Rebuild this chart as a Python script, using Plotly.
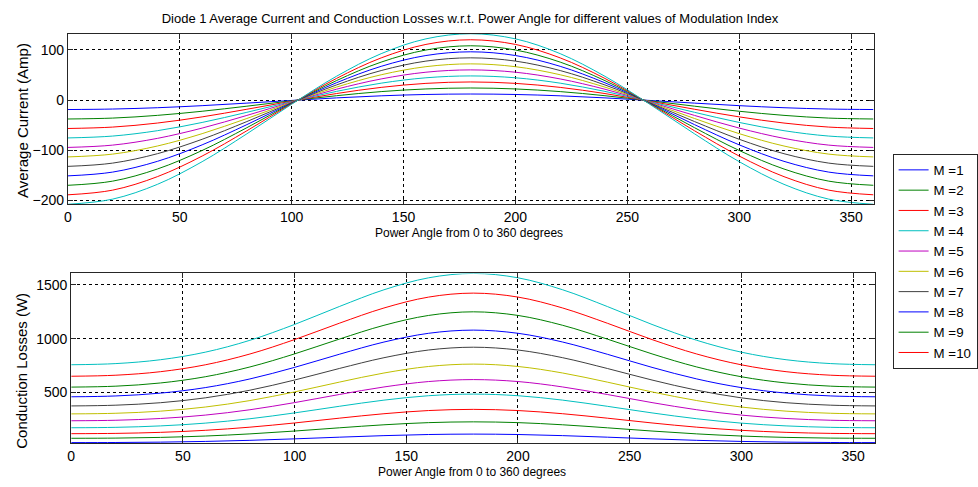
import plotly.graph_objects as go

angles = [0, 20, 40, 60, 80, 100, 120, 140, 160, 180, 200, 220, 240, 260, 280, 300, 320, 340, 360]
labels = ["M =1", "M =2", "M =3", "M =4", "M =5", "M =6", "M =7", "M =8", "M =9", "M =10", "M =11"]

current_m1 = [-18.9, -17.9, -15.3, -11.2, -6.1, -0.8, 4.3, 8.4, 11.1, 12.0, 11.1, 8.4, 4.3, -0.8, -6.1, -11.2, -15.3, -17.9, -18.9]
current_m2 = [-37.7, -35.9, -30.5, -22.3, -12.2, -1.5, 8.6, 16.8, 22.1, 24.0, 22.1, 16.8, 8.6, -1.5, -12.2, -22.3, -30.5, -35.9, -37.7]
current_m3 = [-56.6, -53.8, -45.8, -33.5, -18.3, -2.3, 12.9, 25.2, 33.2, 36.0, 33.2, 25.2, 12.9, -2.3, -18.3, -33.5, -45.8, -53.8, -56.6]
current_m4 = [-75.4, -71.7, -61.0, -44.6, -24.4, -3.0, 17.2, 33.6, 44.3, 48.0, 44.3, 33.6, 17.2, -3.0, -24.4, -44.6, -61.0, -71.7, -75.4]
current_m5 = [-94.3, -89.7, -76.3, -55.8, -30.6, -3.8, 21.5, 42.0, 55.4, 60.0, 55.4, 42.0, 21.5, -3.8, -30.6, -55.8, -76.3, -89.7, -94.3]
current_m6 = [-113.2, -107.6, -91.5, -66.9, -36.7, -4.5, 25.7, 50.3, 66.4, 72.0, 66.4, 50.3, 25.7, -4.5, -36.7, -66.9, -91.5, -107.6, -113.2]
current_m7 = [-132.0, -125.5, -106.8, -78.1, -42.8, -5.3, 30.0, 58.7, 77.5, 84.0, 77.5, 58.7, 30.0, -5.3, -42.8, -78.1, -106.8, -125.5, -132.0]
current_m8 = [-150.9, -143.4, -122.0, -89.2, -48.9, -6.0, 34.3, 67.1, 88.6, 96.0, 88.6, 67.1, 34.3, -6.0, -48.9, -89.2, -122.0, -143.4, -150.9]
current_m9 = [-169.7, -161.4, -137.3, -100.4, -55.0, -6.8, 38.6, 75.5, 99.6, 108.0, 99.6, 75.5, 38.6, -6.8, -55.0, -100.4, -137.3, -161.4, -169.7]
current_m10 = [-188.6, -179.3, -152.5, -111.5, -61.1, -7.5, 42.9, 83.9, 110.7, 120.0, 110.7, 83.9, 42.9, -7.5, -61.1, -111.5, -152.5, -179.3, -188.6]
current_m11 = [-207.5, -197.2, -167.8, -122.7, -67.2, -8.3, 47.2, 92.3, 121.8, 132.0, 121.8, 92.3, 47.2, -8.3, -67.2, -122.7, -167.8, -197.2, -207.5]

loss_m1 = [34, 35.0, 38.3, 44.9, 55.1, 68.9, 84.4, 98.9, 109.2, 113, 109.2, 98.9, 84.4, 68.9, 55.1, 44.9, 38.3, 35.0, 34]
loss_m2 = [74, 75.9, 82.4, 95.0, 115.0, 141.5, 171.5, 199.6, 219.7, 227, 219.7, 199.6, 171.5, 141.5, 115.0, 95.0, 82.4, 75.9, 74]
loss_m3 = [117, 119.8, 129.4, 148.1, 177.5, 216.7, 261.1, 302.5, 332.2, 343, 332.2, 302.5, 261.1, 216.7, 177.5, 148.1, 129.4, 119.8, 117]
loss_m4 = [172, 175.9, 189.2, 215.0, 255.8, 310.1, 371.5, 429.0, 470.0, 485, 470.0, 429.0, 371.5, 310.1, 255.8, 215.0, 189.2, 175.9, 172]
loss_m5 = [237, 241.8, 258.1, 289.7, 339.5, 406.0, 481.2, 551.4, 601.7, 620, 601.7, 551.4, 481.2, 406.0, 339.5, 289.7, 258.1, 241.8, 237]
loss_m6 = [301, 306.8, 326.5, 364.7, 424.9, 505.3, 596.2, 681.1, 741.9, 764, 741.9, 681.1, 596.2, 505.3, 424.9, 364.7, 326.5, 306.8, 301]
loss_m7 = [375, 381.9, 405.0, 450.1, 521.2, 615.9, 723.1, 823.3, 894.9, 921, 894.9, 823.3, 723.1, 615.9, 521.2, 450.1, 405.0, 381.9, 375]
loss_m8 = [460, 467.8, 494.1, 545.3, 626.0, 733.6, 855.3, 969.0, 1050.4, 1080, 1050.4, 969.0, 855.3, 733.6, 626.0, 545.3, 494.1, 467.8, 460]
loss_m9 = [550, 558.8, 588.5, 646.3, 737.4, 858.9, 996.3, 1124.7, 1216.5, 1250, 1216.5, 1124.7, 996.3, 858.9, 737.4, 646.3, 588.5, 558.8, 550]
loss_m10 = [651, 660.7, 693.5, 757.3, 857.9, 992.1, 1143.8, 1285.6, 1387.1, 1424, 1387.1, 1285.6, 1143.8, 992.1, 857.9, 757.3, 693.5, 660.7, 651]
loss_m11 = [758, 768.7, 804.7, 874.7, 985.3, 1132.7, 1299.2, 1455.0, 1566.4, 1607, 1566.4, 1455.0, 1299.2, 1132.7, 985.3, 874.7, 804.7, 768.7, 758]

currents = [current_m1, current_m2, current_m3, current_m4, current_m5, current_m6,
            current_m7, current_m8, current_m9, current_m10, current_m11]
losses = [loss_m1, loss_m2, loss_m3, loss_m4, loss_m5, loss_m6,
          loss_m7, loss_m8, loss_m9, loss_m10, loss_m11]

colors = ["#0000ff", "#008000", "#ff0000", "#00bfbf", "#bf00bf", "#bfbf00", "#404040"]
x_ticks = [0, 50, 100, 150, 200, 250, 300, 350]

W, H = 978, 487
FONT = "Liberation Sans, Arial, sans-serif"

fig = go.Figure()
for i, cur in enumerate(currents):
    c = colors[i % len(colors)]
    fig.add_trace(go.Scatter(x=angles, y=cur, mode="lines", name=labels[i],
                             line=dict(color=c, width=1, shape="spline", smoothing=1),
                             showlegend=(i < 10), xaxis="x", yaxis="y"))
for i, los in enumerate(losses):
    c = colors[i % len(colors)]
    fig.add_trace(go.Scatter(x=angles, y=los, mode="lines", name=labels[i],
                             line=dict(color=c, width=1, shape="spline", smoothing=1),
                             showlegend=False, xaxis="x2", yaxis="y2"))

axis_common = dict(showline=True, linecolor="#262626", linewidth=1, mirror="ticks",
                   ticks="inside", ticklen=5, tickcolor="#262626",
                   showgrid=True, gridcolor="#000000", gridwidth=1, griddash="dot",
                   zeroline=False, tickfont=dict(family=FONT, size=14, color="#000"))

fig.update_layout(
    width=W, height=H,
    margin=dict(l=0, r=0, t=0, b=0),
    paper_bgcolor="white", plot_bgcolor="white",
    font=dict(family=FONT, color="#000"),
    title=dict(text="Diode 1 Average Current and Conduction Losses w.r.t. Power Angle for different values of Modulation Index",
               x=470 / W, xanchor="center", y=1 - 18 / H, yanchor="middle",
               font=dict(family=FONT, size=13, color="#000")),
    xaxis=dict(domain=[64.3 / W, 875.8 / W], range=[0, 360], tickvals=x_ticks,
               anchor="y", **axis_common),
    yaxis=dict(domain=[(H - 206) / H, (H - 34) / H], range=[-207.5, 132],
               tickvals=[-200, -100, 0, 100], anchor="x", **axis_common),
    xaxis2=dict(domain=[67.7 / W, 877.7 / W], range=[0, 360], tickvals=x_ticks,
                anchor="y2", **axis_common),
    yaxis2=dict(domain=[(H - 446.7) / H, (H - 275.7) / H], range=[30, 1607],
                tickvals=[500, 1000, 1500], anchor="x2", **axis_common),
    legend=dict(x=895 / W, y=1 - 155 / H, xanchor="left", yanchor="top",
                bordercolor="#262626", borderwidth=1, bgcolor="white",
                font=dict(family=FONT, size=13.3, color="#000"),
                itemwidth=30, traceorder="normal"),
    annotations=[
        dict(text="Power Angle from 0 to 360 degrees", xref="paper", yref="paper",
             x=468 / W, y=1 - 235 / H, xanchor="center", yanchor="middle", showarrow=False,
             font=dict(family=FONT, size=12, color="#000")),
        dict(text="Power Angle from 0 to 360 degrees", xref="paper", yref="paper",
             x=471 / W, y=1 - 476 / H, xanchor="center", yanchor="middle", showarrow=False,
             font=dict(family=FONT, size=12, color="#000")),
        dict(text="Average Current (Amp)", xref="paper", yref="paper",
             x=18 / W, y=1 - 121 / H, xanchor="center", yanchor="middle", showarrow=False,
             textangle=-90, font=dict(family=FONT, size=15, color="#000")),
        dict(text="Conduction Losses (W)", xref="paper", yref="paper",
             x=18 / W, y=1 - 374 / H, xanchor="center", yanchor="middle", showarrow=False,
             textangle=-90, font=dict(family=FONT, size=15, color="#000")),
    ],
)

fig.write_html("out.html")
